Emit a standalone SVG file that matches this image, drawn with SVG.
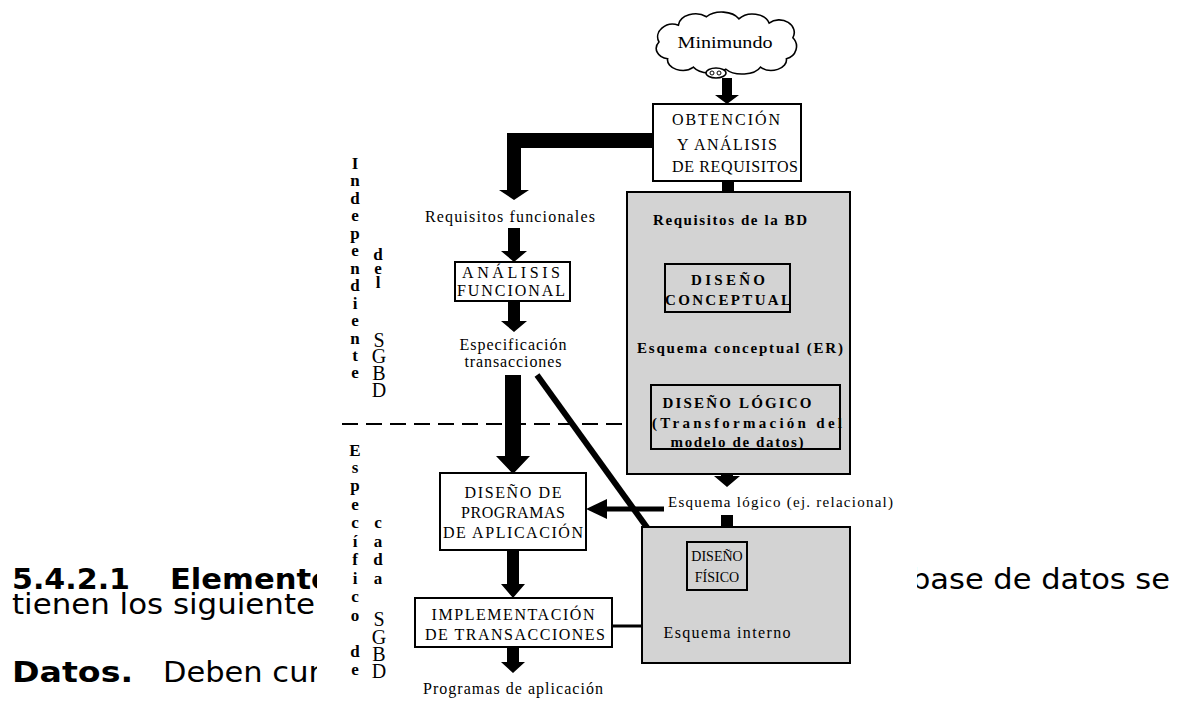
<svg xmlns="http://www.w3.org/2000/svg" width="1186" height="702" viewBox="0 0 1186 702">
<style>
.t{font-family:"Liberation Serif","Times New Roman",serif;font-size:16px;fill:#000;text-anchor:middle}
.s{font-size:15px}
.b{font-weight:bold}
.v{font-family:"Liberation Serif","Times New Roman",serif;font-size:17px;font-weight:bold;fill:#000;text-anchor:middle}
.vb{font-family:"Liberation Serif","Times New Roman",serif;font-size:20px;fill:#000;text-anchor:middle}
.box{fill:#fff;stroke:#000;stroke-width:2}
.gbox{fill:#d3d3d3;stroke:#000;stroke-width:2}
.arr{fill:#000;stroke:none}
.ln{stroke:#000;fill:none}
.p{font-family:"DejaVu Sans",Verdana,sans-serif;font-size:28px;fill:#000}
</style>
<defs>
<clipPath id="pageclip"><rect x="0" y="0" width="317" height="702"/><rect x="917" y="0" width="269" height="702"/></clipPath>
</defs>
<rect x="0" y="0" width="1186" height="702" fill="#fff"/>

<g id="page-text" clip-path="url(#pageclip)">
<text class="p" font-weight="bold" x="12" y="589" textLength="118" lengthAdjust="spacingAndGlyphs">5.4.2.1</text>
<text class="p" font-weight="bold" x="170" y="589" textLength="162" lengthAdjust="spacingAndGlyphs">Elemento</text>
<text class="p" x="911" y="589" textLength="259" lengthAdjust="spacingAndGlyphs">base de datos se</text>
<text class="p" x="12" y="614" textLength="303" lengthAdjust="spacingAndGlyphs">tienen los siguiente</text>
<text class="p" font-weight="bold" x="12" y="682" textLength="121" lengthAdjust="spacingAndGlyphs">Datos.</text>
<text class="p" x="163" y="682" textLength="158" lengthAdjust="spacingAndGlyphs">Deben cur</text>
</g>

<g id="side-labels">
<text class="v" x="355" y="169">I</text><text class="v" x="355" y="186">n</text><text class="v" x="355" y="204">d</text><text class="v" x="355" y="221">e</text><text class="v" x="355" y="239">p</text><text class="v" x="355" y="256">e</text><text class="v" x="355" y="274">n</text><text class="v" x="355" y="291">d</text><text class="v" x="355" y="309">i</text><text class="v" x="355" y="326">e</text><text class="v" x="355" y="344">n</text><text class="v" x="355" y="361">t</text><text class="v" x="355" y="378">e</text>
<text class="v" x="378" y="260">d</text><text class="v" x="378" y="274">e</text><text class="v" x="378" y="288">l</text>
<text class="vb" x="379" y="347">S</text><text class="vb" x="379" y="363">G</text><text class="vb" x="379" y="380">B</text><text class="vb" x="379" y="397">D</text>
<text class="v" x="355" y="456">E</text><text class="v" x="355" y="473">s</text><text class="v" x="355" y="491">p</text><text class="v" x="355" y="510">e</text><text class="v" x="355" y="528">c</text><text class="v" x="355" y="547">í</text><text class="v" x="355" y="565">f</text><text class="v" x="355" y="584">i</text><text class="v" x="355" y="602">c</text><text class="v" x="355" y="621">o</text><text class="v" x="355" y="657">d</text><text class="v" x="355" y="675">e</text>
<text class="v" x="378" y="528">c</text><text class="v" x="378" y="547">a</text><text class="v" x="378" y="565">d</text><text class="v" x="378" y="584">a</text>
<text class="vb" x="379" y="626">S</text><text class="vb" x="379" y="644">G</text><text class="vb" x="379" y="661">B</text><text class="vb" x="379" y="678">D</text>
</g>

<g id="connectors">
<line class="ln" x1="342" y1="424" x2="651" y2="424" stroke-width="2" stroke-dasharray="16 8"/>
<path class="arr" d="M722,78 V95 H715 L727,104 L739,95 H732 V78 Z"/>
<path class="arr" d="M653,133 H507 V190 H499 L514,200 L529,190 H521 V148 H653 Z"/>
<path class="arr" d="M722,181 V197 H715 L728,208 L741,197 H734 V181 Z"/>
<path class="arr" d="M722,235 V253 H715 L728,264 L741,253 H734 V235 Z"/>
<path class="arr" d="M722,312 V329 H715 L728,340 L741,329 H734 V312 Z"/>
<path class="arr" d="M722,358 V374 H715 L728,385 L741,374 H734 V358 Z"/>
<path class="arr" d="M721,449 V476 H714 L727,487 L740,476 H733 V449 Z"/>
<path class="arr" d="M721,515 V531 H714 L727,542 L740,531 H733 V515 Z"/>
<path class="arr" d="M721,590 V607 H714 L727,618 L740,607 H733 V590 Z"/>
<path class="arr" d="M508,228 V251 H501 L514,262 L527,251 H520 V228 Z"/>
<path class="arr" d="M508,301 V321 H501 L514,332 L527,321 H520 V301 Z"/>
<path class="arr" d="M505,375 V456 H496 L513,474 L530,456 H521 V375 Z"/>
<path class="arr" d="M507,550 V584 H501 L513,598 L525,584 H519 V550 Z"/>
<path class="arr" d="M507,647 V662 H501 L513,673 L525,662 H519 V647 Z"/>
<line class="ln" x1="664" y1="509" x2="604" y2="509" stroke-width="5"/>
<path class="arr" d="M586,509 L607,499 L607,519 Z"/>
<line class="ln" x1="537" y1="375" x2="669" y2="558" stroke-width="6"/>
<path class="arr" d="M683,578 L659.5,564.1 L677.3,551.3 Z"/>
<line class="ln" x1="612" y1="626" x2="660" y2="626" stroke-width="3"/>
</g>

<g id="minimundo">
<path transform="translate(727,43) scale(1.08,1.05) translate(-723,-43)" d="M668,58 a12,10 0 0 1 -8,-16 a14,12 0 0 1 18,-16 a16,12 0 0 1 26,-8 a18,12 0 0 1 30,2 a16,12 0 0 1 28,4 a14,12 0 0 1 22,14 a12,12 0 0 1 -6,20 a14,10 0 0 1 -24,8 a18,10 0 0 1 -32,2 a18,10 0 0 1 -30,-2 a14,10 0 0 1 -24,-8 Z" fill="#fff" stroke="#000" stroke-width="1.5"/>
<ellipse cx="716" cy="73" rx="10" ry="5" fill="#fff" stroke="#000" stroke-width="1.5"/>
<circle cx="712" cy="73" r="2" fill="none" stroke="#000"/>
<circle cx="719" cy="73" r="2" fill="none" stroke="#000"/>
<text class="t" x="725" y="48" textLength="95" lengthAdjust="spacingAndGlyphs">Minimundo</text>
</g>

<g id="obtencion">
<rect class="box" x="653" y="104" width="148" height="77"/>
<text class="t" x="726" y="125" textLength="108">OBTENCIÓN</text>
<text class="t" x="727" y="150" textLength="100">Y ANÁLISIS</text>
<text class="t" x="735" y="172" textLength="126">DE REQUISITOS</text>
</g>

<g id="req-funcionales">
<text class="t" x="510" y="222" textLength="170">Requisitos funcionales</text>
</g>

<g id="analisis-funcional">
<rect class="box" x="455" y="262" width="115" height="39"/>
<text class="t" x="511" y="278" textLength="98">ANÁLISIS</text>
<text class="t" x="511" y="296" textLength="108">FUNCIONAL</text>
</g>

<g id="especificacion">
<text class="t" x="513" y="350" textLength="107">Especificación</text>
<text class="t" x="513" y="367" textLength="97">transacciones</text>
</g>

<g id="bd-group">
<rect class="gbox" x="627" y="192" width="223" height="282"/>
<text class="t s b" x="730" y="225" textLength="154">Requisitos de la BD</text>
<text class="t s b" x="740" y="353" textLength="206">Esquema conceptual (ER)</text>
</g>

<g id="diseno-conceptual">
<rect class="gbox" x="665" y="264" width="125" height="48"/>
<text class="t s b" x="728" y="285" textLength="74">DISEÑO</text>
<text class="t s b" x="728" y="305" textLength="126">CONCEPTUAL</text>
</g>

<g id="diseno-logico">
<rect class="gbox" x="651" y="385" width="189" height="64"/>
<text class="t s b" x="737" y="408" textLength="149">DISEÑO LÓGICO</text>
<text class="t s b" x="747" y="428" textLength="190">(Transformación del</text>
<text class="t s b" x="737" y="447" textLength="133">modelo de datos)</text>
</g>

<g id="esquema-logico">
<text class="t s" x="668" y="507" style="text-anchor:start" textLength="225">Esquema lógico (ej. relacional)</text>
</g>

<g id="fisico-group">
<rect class="gbox" x="642" y="527" width="208" height="136"/>
<text class="t" x="727" y="638" textLength="127">Esquema interno</text>
</g>

<g id="diseno-fisico">
<rect class="gbox" x="687" y="542" width="60" height="48"/>
<text class="t" x="717" y="561" style="font-size:14px">DISEÑO</text>
<text class="t" x="717" y="582" style="font-size:14px">FÍSICO</text>
</g>

<g id="diseno-programas">
<rect class="box" x="440" y="473" width="146" height="77"/>
<text class="t" x="513" y="498" textLength="97">DISEÑO DE</text>
<text class="t" x="513" y="518" textLength="104">PROGRAMAS</text>
<text class="t" x="513" y="538" textLength="140">DE APLICACIÓN</text>
</g>

<g id="implementacion">
<rect class="box" x="415" y="598" width="197" height="49"/>
<text class="t" x="513" y="620" textLength="163">IMPLEMENTACIÓN</text>
<text class="t" x="515" y="640" textLength="180">DE TRANSACCIONES</text>
</g>

<g id="programas">
<text class="t" x="513" y="694" textLength="180">Programas de aplicación</text>
</g>
</svg>
